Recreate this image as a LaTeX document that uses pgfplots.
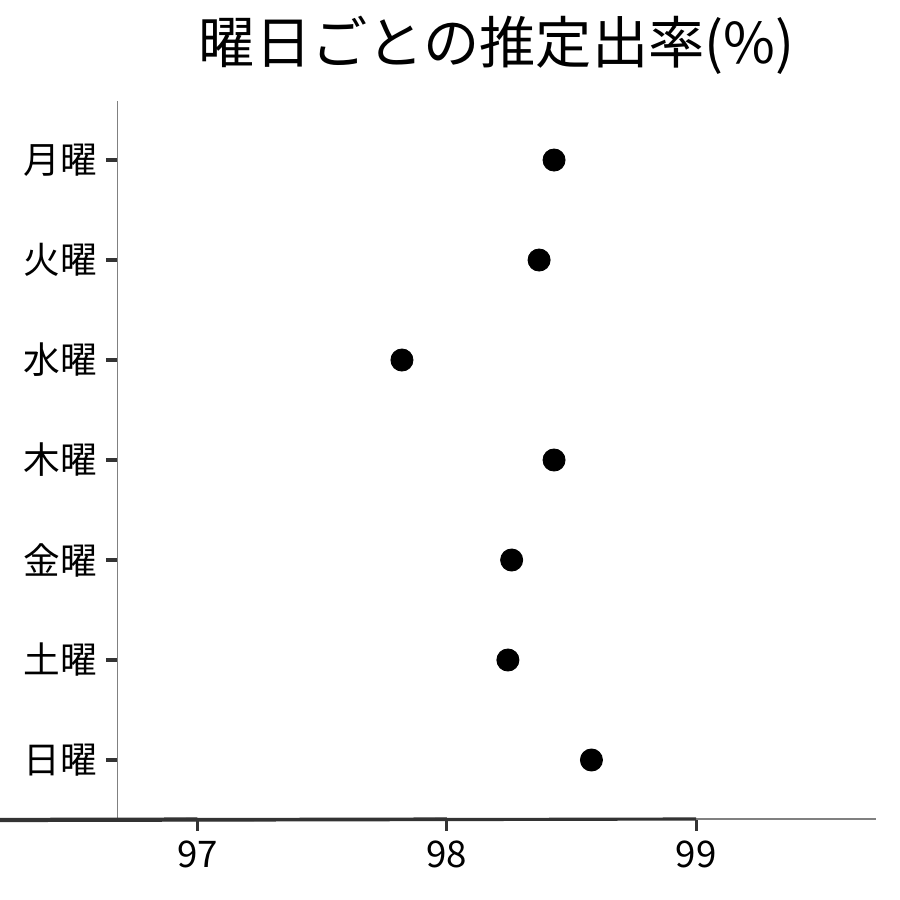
\documentclass[border=0pt]{standalone}
\usepackage{pgfplots}
\pgfplotsset{compat=1.18}
\usepackage{fontspec}
\setmainfont{Noto Sans CJK JP}
\begin{document}
\begin{tikzpicture}
\begin{axis}[
  scale only axis,
  width=336.9pt, height=319.1pt,
  xmin=96.68, xmax=99.72,
  ymin=0.41, ymax=7.59,
  axis line style={draw=none},
  xtick pos=bottom, ytick pos=left,
  xtick={97,98,99},
  ytick={1,2,3,4,5,6,7},
  yticklabels={日曜,土曜,金曜,木曜,水曜,火曜,月曜},
  tick align=outside,
  major tick length=5.3pt,
  major tick style={draw=black!80, line width=1.4pt},
  tick label style={font=\fontsize{16.3pt}{19pt}\selectfont},
  /pgf/number format/assume math mode=true,
  xticklabel style={yshift=-1pt},
  yticklabel style={xshift=-0.5pt},
  title={曜日ごとの推定出率(\%)},
  title style={at={(0.5,1)}, anchor=base, yshift=10.8pt, font=\fontsize{25pt}{29pt}\selectfont},
  clip=false,
]
\draw[black!50, line width=0.65pt] (rel axis cs:0,1) -- (rel axis cs:0,0) -- (rel axis cs:1,0);
\draw[black!80, line width=1.4pt] (axis cs:97,0.41) -- ++(0,-5.3pt);
\draw[black!80, line width=1.4pt] (axis cs:98,0.41) -- ++(0,-5.3pt);
\draw[black!80, line width=1.4pt] (axis cs:99,0.41) -- ++(0,-5.3pt);
\addplot[only marks, mark=*, mark size=4.9pt, black] coordinates {
  (98.43,7) (98.37,6) (97.82,5) (98.43,4) (98.26,3) (98.245,2) (98.58,1)
};
\end{axis}
\pgfresetboundingbox
\path (-52.44pt,-36pt) rectangle (347.56pt,364pt);
\end{tikzpicture}
\end{document}
